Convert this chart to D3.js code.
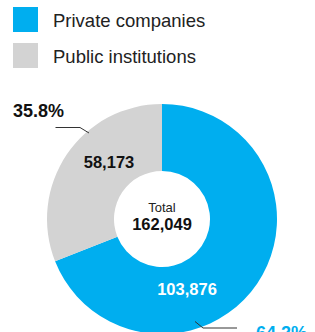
<!DOCTYPE html>
<html><head><meta charset="utf-8">
<script src="https://cdn.jsdelivr.net/npm/d3@7"></script>
<style>
html,body{margin:0;padding:0;background:#fff;overflow:hidden}
svg{display:block;font-family:"Liberation Sans",Arial,Helvetica,sans-serif}
</style></head><body>
<svg id="chart" width="315" height="332"></svg>
<script>
// ---- data ----
const categories = ["Private companies", "Public institutions"];
const values = [103876, 58173];
const percentLabels = ["64.2%", "35.8%"];
// angular shares as drawn in the reference (%)
const drawnShares = [69.0, 31.0];
const totalLabel = "Total";
const totalValue = 162049;

// ---- layout ----
const colors = ["#00AEEF", "#D3D3D3"];
const cx = 162, cy = 219, rOuter = 115, rInner = 48;
const fmt = d3.format(",");

const svg = d3.select("#chart");

// legend
const leg = svg.append("g");
categories.forEach((c, i) => {
  const g = leg.append("g").attr("transform", `translate(13,${7 + i * 36})`);
  g.append("rect").attr("width", 25).attr("height", 25).attr("fill", colors[i]);
  g.append("text").attr("x", 40).attr("y", 19.5).attr("font-size", 18.5)
    .attr("fill", "#222").text(c);
});

// donut
const pie = d3.pie().sort(null).value(d => d.share);
const arcs = pie(categories.map((c, i) => ({ cat: c, share: drawnShares[i], value: values[i] })));
const arc = d3.arc().innerRadius(rInner).outerRadius(rOuter);
const g = svg.append("g").attr("transform", `translate(${cx},${cy})`);
g.selectAll("path").data(arcs).join("path")
  .attr("d", arc).attr("fill", (d, i) => colors[i]);

// value labels inside slices
const valuePos = [[25, 76], [-53, -51]];
const valueColor = ["#fff", "#111"];
arcs.forEach((a, i) => {
  g.append("text").attr("x", valuePos[i][0]).attr("y", valuePos[i][1])
    .attr("text-anchor", "middle").attr("font-size", 16.5).attr("font-weight", "bold")
    .attr("fill", valueColor[i]).text(fmt(a.data.value));
});

// center
g.append("text").attr("y", -7).attr("text-anchor", "middle").attr("font-size", 13)
  .attr("fill", "#222").text(totalLabel);
g.append("text").attr("y", 10.5).attr("text-anchor", "middle").attr("font-size", 16.5)
  .attr("font-weight", "bold").attr("fill", "#111").text(fmt(totalValue));

// leader lines & percent labels
const leaders = [
  { pts: [[195, 321.5], [203, 328], [237, 328]], label: [256, 339], color: colors[0] },
  { pts: [[89, 133], [80, 127.5], [55.5, 127.5]], label: [13, 117], color: "#111" }
];
leaders.forEach((l, i) => {
  svg.append("polyline").attr("points", l.pts.map(p => p.join(",")).join(" "))
    .attr("fill", "none").attr("stroke", "#333").attr("stroke-width", 1);
  svg.append("text").attr("x", l.label[0]).attr("y", l.label[1])
    .attr("font-size", 18).attr("font-weight", "bold").attr("fill", l.color)
    .text(percentLabels[i]);
});
</script></body></html>
